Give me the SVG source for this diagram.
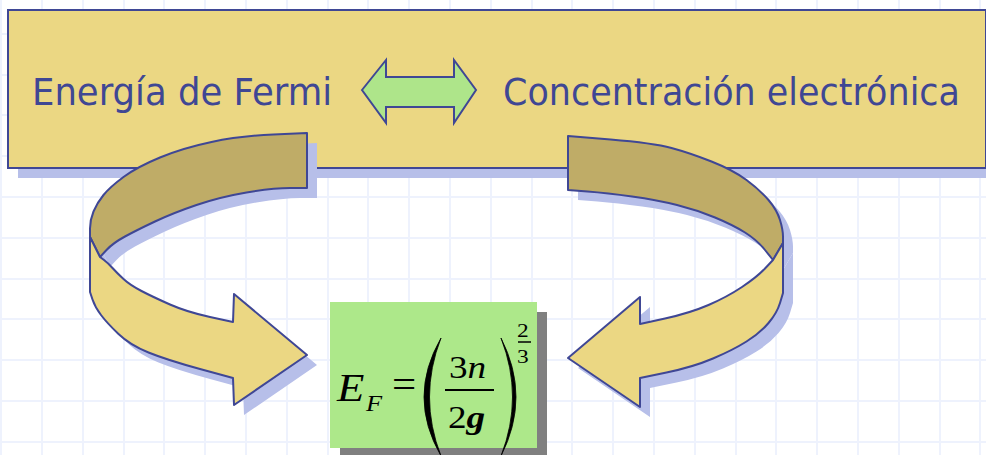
<svg xmlns="http://www.w3.org/2000/svg" width="986" height="455" viewBox="0 0 986 455">
<style>
.grid line{stroke:#eef2fd;stroke-width:2}
.shadow{fill:#b7bfe9}
.light{fill:#ebd783;stroke:#3f4795;stroke-width:2;stroke-linejoin:round}
.dark{fill:#bfac67;stroke:#3f4795;stroke-width:2;stroke-linejoin:round}
.label{font-family:"DejaVu Sans",Verdana,sans-serif;font-size:37px;fill:#3f4794}
.math{font-family:"Liberation Serif","Times New Roman",serif;fill:#000}
</style>
<defs>
<path id="la-dark" d="M307,133 L273.5,134.5 Q240,136 211.5,142 Q183,148 160,157.5 Q137,167 123.5,177 Q110,187 103.5,195 Q97,203 93.5,211.5 Q90,220 90,228.5 L90,237 L100,257 L106.5,250 Q113,243 125,236.5 Q137,230 155,221.5 Q173,213 196.5,205 Q220,197 246.5,192.5 Q273,188 290,188 L307,188 Z"/>
<path id="la-light" d="M90,237 L90,292 L92.5,299.5 Q95,307 101,315 Q107,323 118.5,334 Q130,345 148.5,352.5 Q167,360 200,369 L233,378 L234,405 L307,355 L234,294 L233,322 L210,317 Q187,312 170,304.5 Q153,297 141.5,291 Q130,285 123.5,279 Q117,273 112.5,268 Q108,263 104,260 L100,257 Z"/>
<path id="ra-dark" d="M568,136 L610.5,139.5 Q653,143 671.5,148 Q690,153 711.5,161.5 Q733,170 746.5,180 Q760,190 768.5,200 Q777,210 780,220 Q783,230 783,236.5 L783,243 L773,260 L765,250 Q757,240 745,232.5 Q733,225 715,217.5 Q697,210 677,205 Q657,200 632,196.5 Q607,193 587.5,191.5 L568,190 Z"/>
<path id="ra-light" d="M783,243 L783,293 L780,303 Q777,313 768.5,323 Q760,333 746.5,341.5 Q733,350 713,358.5 Q693,367 666.5,372.5 L640,378 L640,407 L568,358 L640,297 L640,324 L665,318.5 Q690,313 708.5,305 Q727,297 742,287 Q757,277 765,268.5 L773,260 Z"/>
</defs>
<rect width="986" height="455" fill="#ffffff"/>
<g class="grid">
<line x1="1" y1="0" x2="1" y2="455"/><line x1="42" y1="0" x2="42" y2="455"/><line x1="83" y1="0" x2="83" y2="455"/><line x1="124" y1="0" x2="124" y2="455"/><line x1="164" y1="0" x2="164" y2="455"/><line x1="205" y1="0" x2="205" y2="455"/><line x1="246" y1="0" x2="246" y2="455"/><line x1="287" y1="0" x2="287" y2="455"/><line x1="328" y1="0" x2="328" y2="455"/><line x1="368" y1="0" x2="368" y2="455"/><line x1="409" y1="0" x2="409" y2="455"/><line x1="450" y1="0" x2="450" y2="455"/><line x1="491" y1="0" x2="491" y2="455"/><line x1="532" y1="0" x2="532" y2="455"/><line x1="572" y1="0" x2="572" y2="455"/><line x1="613" y1="0" x2="613" y2="455"/><line x1="654" y1="0" x2="654" y2="455"/><line x1="695" y1="0" x2="695" y2="455"/><line x1="736" y1="0" x2="736" y2="455"/><line x1="776" y1="0" x2="776" y2="455"/><line x1="817" y1="0" x2="817" y2="455"/><line x1="858" y1="0" x2="858" y2="455"/><line x1="899" y1="0" x2="899" y2="455"/><line x1="940" y1="0" x2="940" y2="455"/><line x1="980" y1="0" x2="980" y2="455"/>
<line x1="0" y1="34" x2="986" y2="34"/><line x1="0" y1="75" x2="986" y2="75"/><line x1="0" y1="115" x2="986" y2="115"/><line x1="0" y1="156" x2="986" y2="156"/><line x1="0" y1="197" x2="986" y2="197"/><line x1="0" y1="238" x2="986" y2="238"/><line x1="0" y1="279" x2="986" y2="279"/><line x1="0" y1="319" x2="986" y2="319"/><line x1="0" y1="360" x2="986" y2="360"/><line x1="0" y1="401" x2="986" y2="401"/><line x1="0" y1="442" x2="986" y2="442"/>
</g>
<g id="header">
<rect class="shadow" x="18" y="20" width="980" height="158"/>
<rect x="8" y="10" width="978" height="158" fill="#ebd783" stroke="#3f4795" stroke-width="2"/>
<text class="label" x="32" y="105" textLength="300" lengthAdjust="spacingAndGlyphs">Energía de Fermi</text>
<text class="label" x="503" y="105" textLength="457" lengthAdjust="spacingAndGlyphs">Concentración electrónica</text>
</g>
<g id="double-arrow">
<path d="M362,90 L386,60 L386,77 L454,77 L454,60 L476,90 L454,123 L454,107 L386,107 L386,123 Z" fill="#aee58a" stroke="#3f4795" stroke-width="2" stroke-linejoin="miter"/>
</g>
<g id="equation">
<rect x="340" y="312" width="207" height="146" fill="#808080"/>
<rect x="330" y="302" width="207" height="146" fill="#ade88a"/>
<text class="math" transform="translate(337,401) scale(1.12,1)" font-size="40" font-style="italic">E</text>
<text class="math" transform="translate(366,411) scale(1.1,1)" font-size="24" font-style="italic">F</text>
<text class="math" transform="translate(392,398) scale(1.1,1)" font-size="39">=</text>
<path d="M441,338 Q407,397 441,456 Q418,397 441,338 Z" fill="#000" stroke="#000" stroke-width="0.8"/>
<text class="math" transform="translate(449,378) scale(1.2,1)" font-size="31">3<tspan font-style="italic">n</tspan></text>
<line x1="445" y1="390" x2="494" y2="390" stroke="#000" stroke-width="2"/>
<text class="math" transform="translate(448,428) scale(1.2,1)" font-size="31">2<tspan font-weight="bold" font-style="italic">g</tspan></text>
<path d="M501,338 Q531,397 501,456 Q524,397 501,338 Z" fill="#000" stroke="#000" stroke-width="0.8"/>
<text class="math" transform="translate(517,337) scale(1.3,1)" font-size="18">2</text>
<line x1="518" y1="342" x2="531" y2="342" stroke="#000" stroke-width="1.5"/>
<text class="math" transform="translate(517,363) scale(1.3,1)" font-size="18">3</text>
</g>
<g id="connectors">
<g id="left-arrow">
<use href="#la-dark" class="shadow" transform="translate(10,10)"/>
<use href="#la-light" class="shadow" transform="translate(10,10)"/>
<use href="#la-dark" class="dark"/>
<use href="#la-light" class="light"/>
</g>
<g id="right-arrow">
<use href="#ra-dark" class="shadow" transform="translate(10,10)"/>
<use href="#ra-light" class="shadow" transform="translate(10,10)"/>
<use href="#ra-dark" class="dark"/>
<use href="#ra-light" class="light"/>
</g>
</g>
</svg>
